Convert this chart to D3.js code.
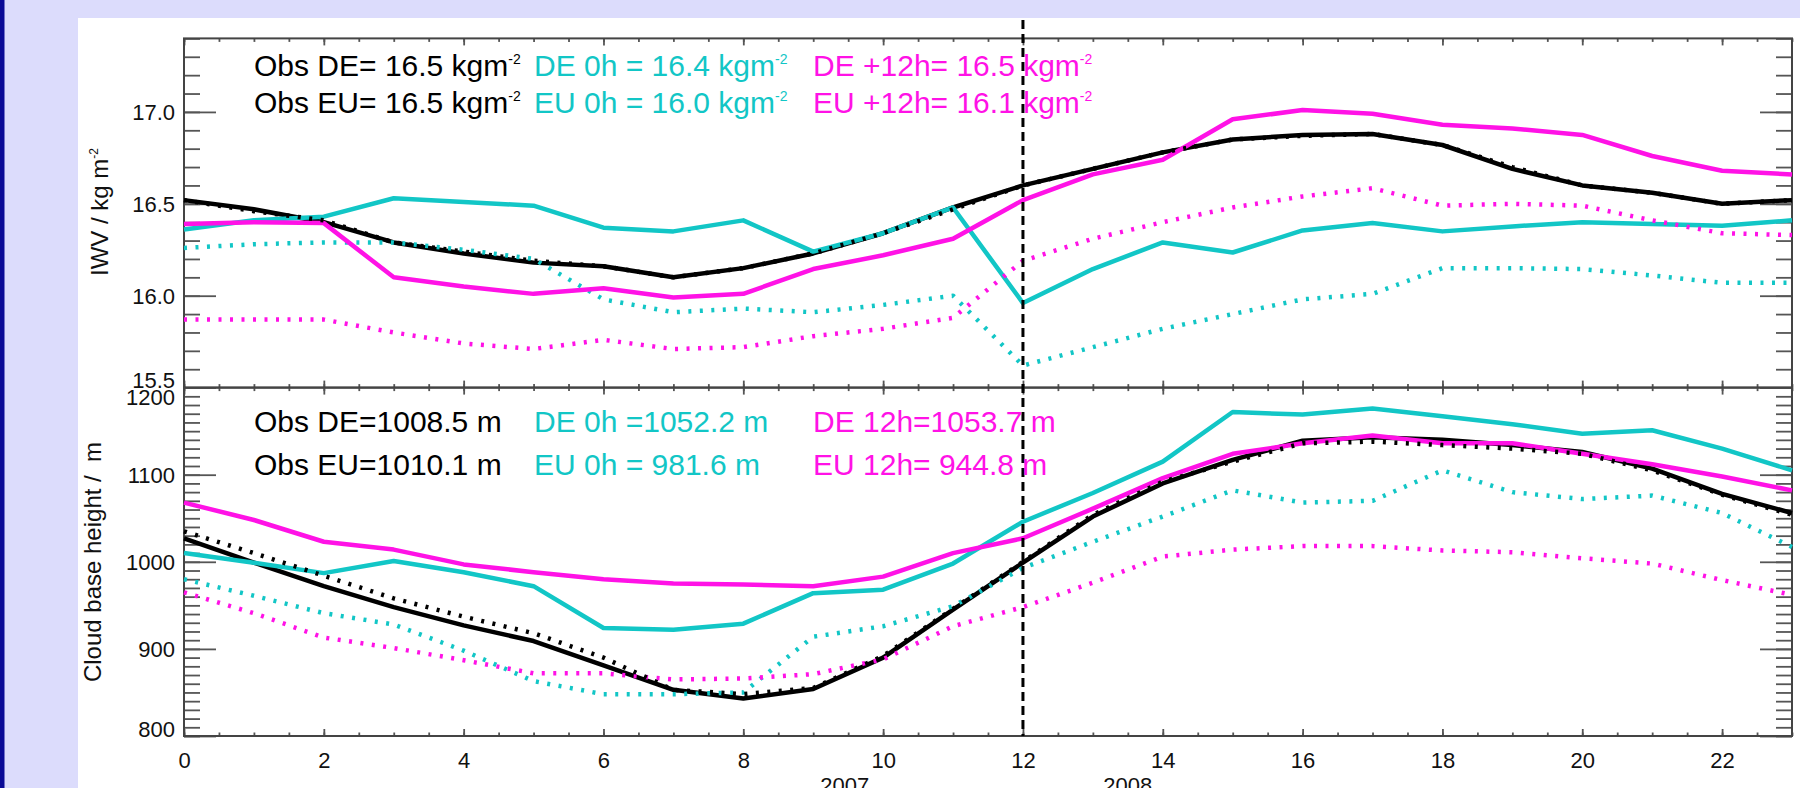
<!DOCTYPE html>
<html>
<head>
<meta charset="utf-8">
<script src="https://cdn.jsdelivr.net/npm/d3@7"></script>
<style>
  html, body { margin: 0; padding: 0; background: #dcdcfc; }
  svg { display: block; }
  text { font-family: "Liberation Sans", Arial, Helvetica, sans-serif; }
</style>
</head>
<body>
<svg id="chart" width="1800" height="788"></svg>
<script>
// hour of day (x axis)
const hours = [0, 1, 2, 3, 4, 5, 6, 7, 8, 9, 10, 11, 12, 13, 14, 15, 16, 17, 18, 19, 20, 21, 22, 23];
const xTickValues = [0, 2, 4, 6, 8, 10, 12, 14, 16, 18, 20, 22];
const splitHour = 12;
const yearLabels = ["2007", "2008"];
const yearLabelAt = [9.45, 13.5];

// IWV panel (kg m-2)
const iwvTicks = [15.5, 16.0, 16.5, 17.0];
const iwvObsDE = [16.52, 16.47, 16.40, 16.29, 16.23, 16.18, 16.16, 16.10, 16.15, 16.23, 16.34, 16.48,
                  16.60, 16.69, 16.78, 16.85, 16.875, 16.88, 16.82, 16.69, 16.60, 16.56, 16.50, 16.52];
const iwvObsEU = [16.52, 16.46, 16.41, 16.29, 16.24, 16.19, 16.16, 16.10, 16.15, 16.23, 16.34, 16.47,
                  16.60, 16.69, 16.78, 16.85, 16.87, 16.88, 16.82, 16.70, 16.60, 16.56, 16.50, 16.52];
const iwvDE0h = [16.36, 16.41, 16.43, 16.53, 16.51, 16.49, 16.37, 16.35, 16.41, 16.24, 16.34, 16.48,
                 15.96, 16.145, 16.29, 16.235, 16.355, 16.395, 16.35, 16.377, 16.40, 16.39, 16.38, 16.41];
const iwvEU0h = [16.26, 16.28, 16.29, 16.29, 16.25, 16.20, 15.98, 15.91, 15.93, 15.91, 15.95, 16.00,
                 15.62, 15.72, 15.82, 15.90, 15.98, 16.01, 16.15, 16.15, 16.145, 16.11, 16.07, 16.07];
const iwvDE12h = [16.39, 16.40, 16.395, 16.10, 16.05, 16.01, 16.04, 15.99, 16.01, 16.145, 16.22, 16.31,
                  16.52, 16.66, 16.74, 16.96, 17.01, 16.99, 16.93, 16.91, 16.875, 16.76, 16.68, 16.66];
const iwvEU12h = [15.87, 15.87, 15.87, 15.80, 15.74, 15.71, 15.76, 15.71, 15.72, 15.78, 15.82, 15.88,
                  16.19, 16.31, 16.40, 16.48, 16.54, 16.585, 16.49, 16.50, 16.49, 16.41, 16.34, 16.33];

// cloud base height panel (m)
const cbhTicks = [800, 900, 1000, 1100, 1200];
const cbhObsDE = [1027, 999, 972, 948, 927, 909, 881, 853, 843, 854, 890, 945,
                  999, 1052, 1090, 1117, 1139, 1143, 1140, 1134, 1126, 1107, 1078, 1056];
const cbhObsEU = [1035, 1010, 984, 958, 937, 918, 890, 853, 848, 855, 892, 946,
                  1000, 1054, 1092, 1115, 1136, 1138, 1134, 1130, 1124, 1105, 1077, 1054];
const cbhDE0h = [1010, 999, 987, 1001, 988, 972, 924, 922, 929, 964, 968, 998,
                 1046, 1079, 1115, 1172, 1169, 1176, 1167, 1158, 1147, 1151, 1130, 1105];
const cbhEU0h = [980, 961, 941, 928, 898, 863, 848, 848, 850, 914, 926, 949,
                 993, 1023, 1052, 1082, 1068, 1070, 1105, 1080, 1072, 1076, 1056, 1017];
const cbhDE12h = [1068, 1048, 1023, 1014, 997, 988, 980, 975, 974, 972, 983, 1010,
                  1027, 1061, 1096, 1124, 1136, 1145, 1136, 1136, 1124, 1112, 1098, 1082];
const cbhEU12h = [965, 941, 913, 901, 887, 872, 872, 865, 866, 871, 888, 926,
                  948, 976, 1006, 1014, 1018, 1018, 1013, 1011, 1004, 998, 979, 962];

// legend texts
const iwvLegend = [
  ["Obs DE= 16.5 kgm", "DE 0h = 16.4 kgm", "DE +12h= 16.5 kgm"],
  ["Obs EU= 16.5 kgm", "EU 0h = 16.0 kgm", "EU +12h= 16.1 kgm"]
];
const cbhLegend = [
  ["Obs DE=1008.5 m", "DE 0h =1052.2 m", "DE 12h=1053.7 m"],
  ["Obs EU=1010.1 m", "EU 0h = 981.6 m", "EU 12h= 944.8 m"]
];

const width = 1800, height = 788;
const black = "#000", cyan = "#12c6c6", magenta = "#ff12e6";
const legendColors = [black, cyan, magenta];
const legendX = [254, 534, 813];

const svg = d3.select("#chart");

// page background
svg.append("rect").attr("width", width).attr("height", height).attr("fill", "#dcdcfc");
svg.append("rect").attr("width", 4.5).attr("height", height).attr("fill", "#0a0a96");
svg.append("rect").attr("x", 78).attr("y", 18).attr("width", width - 78).attr("height", height - 18).attr("fill", "#fff");

const x = d3.scaleLinear().domain([0, 23]).range([184, 1792]);
const yTop = d3.scaleLinear().domain([15.5, 17.4]).range([387.6, 38.4]);
const yBot = d3.scaleLinear().domain([800, 1200]).range([736, 387.6]);

function styleAxis(g) {
  g.select(".domain").remove();
  g.selectAll(".tick line").attr("stroke", "#555").attr("stroke-width", 1.8);
  g.selectAll(".tick text").attr("fill", "#111").style("font-size", "22px");
}

function drawFrame(y, majorY, minorY, fmt, showX) {
  const yT = y.range()[1], yB = y.range()[0];
  const [x0, x1] = x.range();
  const g = svg.append("g");

  // left / right y ticks (inward)
  g.append("g").attr("transform", `translate(${x0},0)`)
    .call(d3.axisLeft(y).tickValues(minorY).tickSizeInner(-16).tickSizeOuter(0).tickFormat(""))
    .call(styleAxis);
  const left = g.append("g").attr("transform", `translate(${x0},0)`)
    .call(d3.axisLeft(y).tickValues(majorY).tickSizeInner(-32).tickSizeOuter(0).tickPadding(9).tickFormat(fmt))
    .call(styleAxis);
  left.selectAll(".tick text").attr("dy", d => d === y.domain()[0] ? "0em" : d === y.domain()[1] ? "0.78em" : "0.34em");
  g.append("g").attr("transform", `translate(${x1},0)`)
    .call(d3.axisRight(y).tickValues(minorY).tickSizeInner(-16).tickSizeOuter(0).tickFormat(""))
    .call(styleAxis);
  g.append("g").attr("transform", `translate(${x1},0)`)
    .call(d3.axisRight(y).tickValues(majorY).tickSizeInner(-32).tickSizeOuter(0).tickFormat(""))
    .call(styleAxis);

  // top / bottom x ticks (inward)
  const minorX = x.ticks(46);
  [[yT, d3.axisTop], [yB, d3.axisBottom]].forEach(([py, ax]) => {
    g.append("g").attr("transform", `translate(0,${py})`)
      .call(ax(x).tickValues(minorX).tickSizeInner(-3.5).tickSizeOuter(0).tickFormat(""))
      .call(styleAxis);
    const major = g.append("g").attr("transform", `translate(0,${py})`)
      .call(ax(x).tickValues(xTickValues).tickSizeInner(-7).tickSizeOuter(0).tickPadding(16)
        .tickFormat(showX && ax === d3.axisBottom ? d3.format("d") : ""))
      .call(styleAxis);
  });

  g.append("rect")
    .attr("x", x0).attr("y", yT).attr("width", x1 - x0).attr("height", yB - yT)
    .attr("fill", "none").attr("stroke", "#444").attr("stroke-width", 2);
}

drawFrame(yTop, iwvTicks, yTop.ticks(19), d3.format(".1f"), false);
drawFrame(yBot, cbhTicks, yBot.ticks(40), d3.format("d"), true);

// series
function drawSeries(y, values, color, dotted) {
  const line = d3.line().x((d, i) => x(hours[i])).y(d => y(d));
  svg.append("path")
    .datum(values)
    .attr("d", line)
    .attr("fill", "none")
    .attr("stroke", color)
    .attr("stroke-width", 4.5)
    .attr("stroke-linejoin", "round")
    .attr("stroke-dasharray", dotted ? "3,8.5" : null);
}

drawSeries(yTop, iwvObsDE, black, false);
drawSeries(yTop, iwvDE0h, cyan, false);
drawSeries(yTop, iwvEU0h, cyan, true);
drawSeries(yTop, iwvDE12h, magenta, false);
drawSeries(yTop, iwvEU12h, magenta, true);
drawSeries(yTop, iwvObsEU, black, true);

drawSeries(yBot, cbhObsDE, black, false);
drawSeries(yBot, cbhDE0h, cyan, false);
drawSeries(yBot, cbhEU0h, cyan, true);
drawSeries(yBot, cbhDE12h, magenta, false);
drawSeries(yBot, cbhEU12h, magenta, true);
drawSeries(yBot, cbhObsEU, black, true);

// 2007 / 2008 separator
svg.append("line")
  .attr("x1", x(splitHour)).attr("x2", x(splitHour))
  .attr("y1", 20).attr("y2", 736)
  .attr("stroke", "#000").attr("stroke-width", 3)
  .attr("stroke-dasharray", "9,5");

// year labels below the axis
svg.selectAll(".year")
  .data(yearLabels)
  .join("text")
  .attr("class", "year")
  .attr("x", (d, i) => x(yearLabelAt[i]))
  .attr("y", 793)
  .attr("text-anchor", "middle")
  .style("font-size", "22px")
  .attr("fill", "#111")
  .text(d => d);

// legends
iwvLegend.forEach((row, r) => {
  row.forEach((label, c) => {
    const t = svg.append("text")
      .attr("x", legendX[c]).attr("y", 76 + r * 36.7)
      .attr("fill", legendColors[c])
      .style("font-size", "30px");
    t.append("tspan").text(label);
    t.append("tspan").attr("dy", -12).style("font-size", "14px").text("-2");
  });
});

cbhLegend.forEach((row, r) => {
  row.forEach((label, c) => {
    svg.append("text")
      .attr("x", legendX[c]).attr("y", 432 + r * 43)
      .attr("fill", legendColors[c])
      .style("font-size", "30px")
      .text(label);
  });
});

// axis titles
const iwvTitle = svg.append("text")
  .attr("transform", "translate(108,212) rotate(-90)")
  .attr("text-anchor", "middle")
  .attr("fill", "#111")
  .style("font-size", "24px");
iwvTitle.append("tspan").text("IWV / kg m");
iwvTitle.append("tspan").attr("dy", -10).style("font-size", "12px").text("-2");

svg.append("text")
  .attr("transform", "translate(101,562) rotate(-90)")
  .attr("text-anchor", "middle")
  .attr("fill", "#111")
  .style("font-size", "24px")
  .style("white-space", "pre")
  .text("Cloud base height /  m");
</script>
</body>
</html>
